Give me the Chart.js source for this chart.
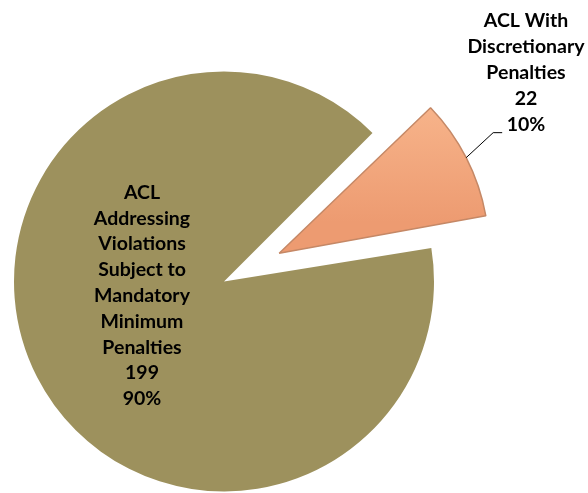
<!DOCTYPE html>
<html>
<head>
<meta charset="utf-8">
<script src="https://cdn.jsdelivr.net/npm/chart.js@4"></script>
<style>
  html, body { margin: 0; padding: 0; background: #fff; }
  canvas { display: block; }
</style>
</head>
<body>
<canvas id="aclChart" width="588" height="493"></canvas>
<script>
// Pie - ACL penalties split
const categories = [
  ['ACL With', 'Discretionary', 'Penalties'],
  ['ACL', 'Addressing', 'Violations', 'Subject to', 'Mandatory', 'Minimum', 'Penalties']
];
const counts = [22, 199];
const percentLabels = ['10%', '90%'];

const pieRadius = 210;
const labelFont = 'bold 19.5px Lato, "Liberation Sans", sans-serif';

// Chart.js grows an offset arc's radius a bit; pull the exploded slice back to the pie radius
const keepRadius = {
  id: 'keepRadius',
  beforeDatasetsDraw(chart) {
    chart.getDatasetMeta(0).data.forEach(a => {
      const off = (a.options.offset || 0) / 4;
      const fix = 1 - Math.sin(Math.min(Math.PI, a.circumference || 0));
      a.outerRadius = pieRadius - off * fix;
    });
  }
};

// draws the data labels and the leader line for the small slice
const sliceLabels = {
  id: 'sliceLabels',
  afterDatasetsDraw(chart) {
    const ctx = chart.ctx;
    const arcs = chart.getDatasetMeta(0).data;
    ctx.save();
    ctx.font = labelFont;
    ctx.fillStyle = '#000';
    ctx.textAlign = 'center';
    ctx.textBaseline = 'middle';

    // small slice: leader from its rim to the label
    const a = arcs[0];
    const mid = (a.startAngle + a.endAngle) / 2;
    const off = a.options.offset / 4;
    const sx = a.x + Math.cos(mid) * (off + pieRadius);
    const sy = a.y + Math.sin(mid) * (off + pieRadius);
    ctx.strokeStyle = '#000';
    ctx.lineWidth = 1;
    ctx.beginPath();
    ctx.moveTo(sx, sy);
    ctx.lineTo(sx + 27, sy - 25);
    ctx.lineTo(sx + 36, sy - 25);
    ctx.stroke();

    const lines0 = categories[0].concat([String(counts[0]), percentLabels[0]]);
    lines0.forEach((t, i) => ctx.fillText(t, a.x + 302, a.y - 261 + i * 26));

    // big slice: label inside
    const b = arcs[1];
    const lines1 = categories[1].concat([String(counts[1]), percentLabels[1]]);
    lines1.forEach((t, i) => ctx.fillText(t, b.x - 82, b.y - 89 + i * 25.8));
    ctx.restore();
  }
};

function sliceFill(context) {
  if (context.dataIndex === 1) return '#9D915D';
  const {ctx, chartArea} = context.chart;
  if (!chartArea) return '#F4A97F';
  const g = ctx.createLinearGradient(0, 100, 0, 250);
  g.addColorStop(0, '#FABB92');
  g.addColorStop(1, '#ED9B71');
  return g;
}

new Chart(document.getElementById('aclChart'), {
  type: 'pie',
  data: {
    labels: categories.map(c => c.join(' ')),
    datasets: [{
      data: counts,
      backgroundColor: sliceFill,
      borderColor: ['#C58866', '#9D915D'],
      borderWidth: [1.5, 0],
      offset: [248, 0],
      clip: false
    }]
  },
  options: {
    responsive: false,
    animation: false,
    rotation: 45,
    radius: pieRadius,
    layout: { padding: { left: 0, right: 140, top: 70, bottom: 0 } },
    plugins: {
      legend: { display: false },
      tooltip: { enabled: false }
    }
  },
  plugins: [keepRadius, sliceLabels]
});
</script>
</body>
</html>
